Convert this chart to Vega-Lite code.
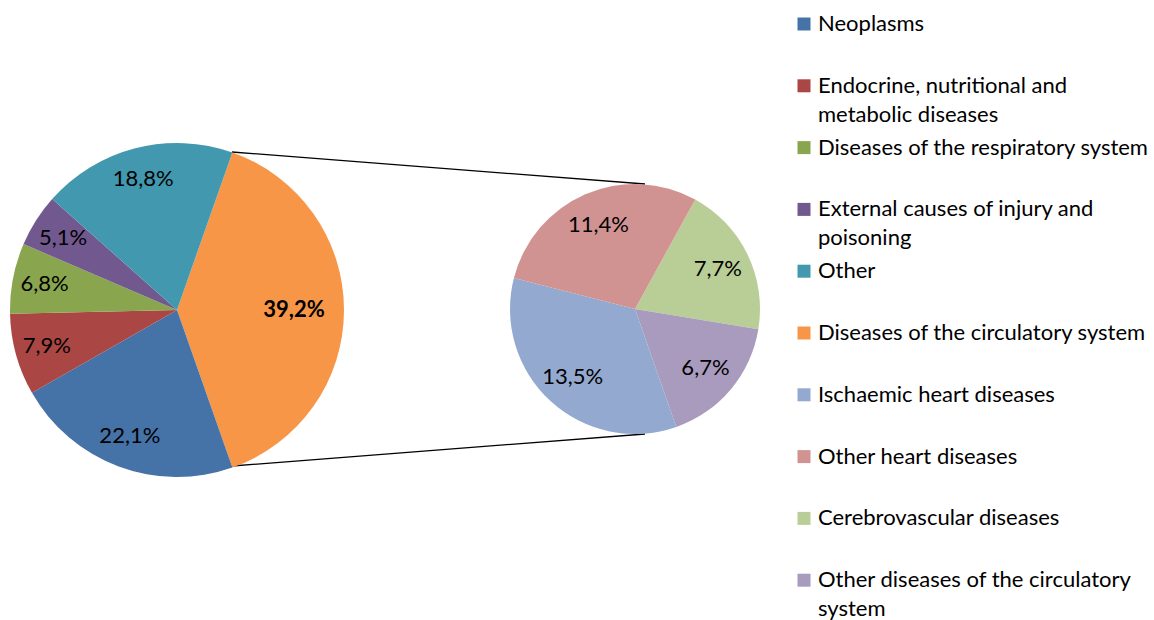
{
  "$schema": "https://vega.github.io/schema/vega-lite/v6.json",
  "width": 1154,
  "height": 620,
  "autosize": {"type": "fit", "contains": "padding"},
  "padding": 0,
  "background": "white",
  "config": {
    "view": {"stroke": null},
    "font": "Lato",
    "legend": {
      "title": null,
      "symbolType": "square",
      "symbolSize": 169,
      "symbolStrokeWidth": 0,
      "symbolOpacity": 1,
      "labelFont": "Lato",
      "labelFontSize": 22,
      "labelColor": "#000000",
      "labelLimit": 400,
      "labelOffset": 3,
      "rowPadding": 10.8,
      "padding": 0,
      "labelBaseline": "alphabetic"
    }
  },
  "datasets": {
    "causes": [
      {"cause": "Diseases of the circulatory system", "share": 39.2, "label": "39,2%", "seq": 1},
      {"cause": "Neoplasms", "share": 22.1, "label": "22,1%", "seq": 2},
      {"cause": "Endocrine, nutritional and metabolic diseases", "share": 7.9, "label": "7,9%", "seq": 3},
      {"cause": "Diseases of the respiratory system", "share": 6.8, "label": "6,8%", "seq": 4},
      {"cause": "External causes of injury and poisoning", "share": 5.1, "label": "5,1%", "seq": 5},
      {"cause": "Other", "share": 18.8, "label": "18,8%", "seq": 6}
    ],
    "circulatory": [
      {"cause": "Cerebrovascular diseases", "share": 7.7, "label": "7,7%", "seq": 1},
      {"cause": "Other diseases of the circulatory system", "share": 6.7, "label": "6,7%", "seq": 2},
      {"cause": "Ischaemic heart diseases", "share": 13.5, "label": "13,5%", "seq": 3},
      {"cause": "Other heart diseases", "share": 11.4, "label": "11,4%", "seq": 4}
    ],
    "frame": [{}]
  },
  "layer": [
    {
      "data": {"name": "frame"},
      "mark": {"type": "rule", "stroke": "#000000", "strokeWidth": 1.3},
      "encoding": {
        "x": {"datum": 232, "type": "quantitative", "scale": {"domain": [0, 1154], "nice": false, "zero": false}, "axis": null},
        "y": {"datum": 152, "type": "quantitative", "scale": {"domain": [0, 620], "reverse": true, "nice": false, "zero": false}, "axis": null},
        "x2": {"datum": 645},
        "y2": {"datum": 184}
      }
    },
    {
      "data": {"name": "frame"},
      "mark": {"type": "rule", "stroke": "#000000", "strokeWidth": 1.3},
      "encoding": {
        "x": {"datum": 232, "type": "quantitative"},
        "y": {"datum": 466, "type": "quantitative"},
        "x2": {"datum": 645},
        "y2": {"datum": 434}
      }
    },
    {
      "data": {"name": "causes"},
      "encoding": {
        "x": {"datum": 177, "type": "quantitative"},
        "y": {"datum": 310, "type": "quantitative"},
        "theta": {"field": "share", "type": "quantitative", "stack": true, "scale": {"range": [0.3381, 6.6213]}},
        "order": {"field": "seq", "type": "quantitative"}
      },
      "layer": [
        {
          "mark": {"type": "arc", "outerRadius": 167},
          "encoding": {
            "color": {
              "field": "cause",
              "type": "nominal",
              "scale": {
                "domain": ["Neoplasms", "Endocrine, nutritional and metabolic diseases", "Diseases of the respiratory system", "External causes of injury and poisoning", "Other", "Diseases of the circulatory system", "Ischaemic heart diseases", "Other heart diseases", "Cerebrovascular diseases", "Other diseases of the circulatory system"],
                "range": ["#4572A7", "#AA4643", "#89A54E", "#71588F", "#4198AF", "#F79646", "#93A9CF", "#D19392", "#B9CD96", "#A99BBD"]
              },
              "legend": {
                "orient": "none",
                "legendX": 793,
                "legendY": 13,
                "labelExpr": "datum.label === 'Endocrine, nutritional and metabolic diseases' ? ['Endocrine, nutritional and', 'metabolic diseases'] : datum.label === 'External causes of injury and poisoning' ? ['External causes of injury and', 'poisoning'] : datum.label === 'Other diseases of the circulatory system' ? ['Other diseases of the circulatory', 'system'] : [datum.label, ' ']",
                "encode": {"labels": {"update": {"lineHeight": {"value": 29}, "dy": {"value": 7}}}}
              }
            }
          }
        },
        {
          "mark": {"type": "text", "radius": 135, "fontSize": 22, "font": "Lato", "fill": "#000000", "align": "center", "baseline": "middle"},
          "encoding": {
            "text": {"field": "label", "condition": {"test": "datum.cause === 'Diseases of the circulatory system'", "value": ""}}
          }
        },
        {
          "mark": {"type": "text", "radius": 117, "fontSize": 22, "font": "Lato", "fontWeight": "bold", "fill": "#000000", "align": "center", "baseline": "middle"},
          "encoding": {
            "text": {"field": "label", "condition": {"test": "datum.cause !== 'Diseases of the circulatory system'", "value": ""}}
          }
        }
      ]
    },
    {
      "data": {"name": "circulatory"},
      "encoding": {
        "x": {"datum": 635, "type": "quantitative"},
        "y": {"datum": 309, "type": "quantitative"},
        "theta": {"field": "share", "type": "quantitative", "stack": true, "scale": {"range": [0.5027, 6.7859]}},
        "order": {"field": "seq", "type": "quantitative"}
      },
      "layer": [
        {
          "mark": {"type": "arc", "outerRadius": 125},
          "encoding": {
            "color": {"field": "cause", "type": "nominal"}
          }
        },
        {
          "mark": {"type": "text", "radius": 92, "fontSize": 22, "font": "Lato", "fill": "#000000", "align": "center", "baseline": "middle"},
          "encoding": {
            "text": {"field": "label"}
          }
        }
      ]
    }
  ],
  "resolve": {"scale": {"theta": "independent"}}
}
